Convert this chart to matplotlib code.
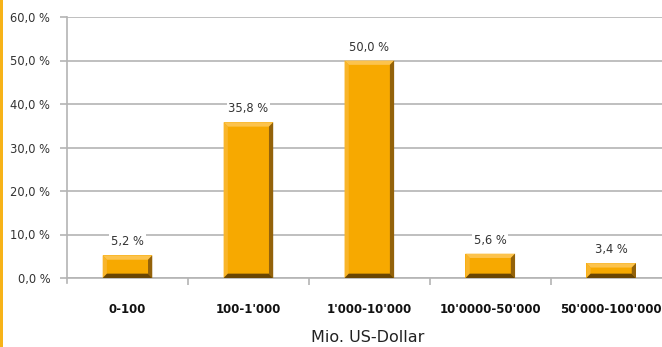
import matplotlib.pyplot as plt
from matplotlib.patches import Polygon, Rectangle

# revenue classes and share of companies
classes = ["0-100", "100-1'000", "1'000-10'000", "10'0000-50'000", "50'000-100'000"]
shares = [5.2, 35.8, 50.0, 5.6, 3.4]
yticks = [0, 10, 20, 30, 40, 50, 60]

FACE = "#F7A900"
LIGHT = "#FCC34D"
DARK = "#93620A"
DARKEST = "#6A4604"
GRID = "#B4B4B4"


def fmt(v):
    return "{:.1f} %".format(v).replace(".", ",")


def bevel_bar(ax, x, h, w=0.41, dx=0.035, dy=1.0):
    x0, x1 = x - w / 2, x + w / 2
    ax.add_patch(Rectangle((x0, 0), w, h, facecolor=FACE, edgecolor="none", zorder=3))
    # top and left highlight
    ax.add_patch(Polygon([(x0, h), (x1, h), (x1 - dx, h - dy), (x0 + dx, h - dy)],
                         facecolor=LIGHT, edgecolor="none", zorder=4))
    ax.add_patch(Polygon([(x0, h), (x0 + dx, h - dy), (x0 + dx, dy), (x0, 0)],
                         facecolor="#F9B52A", edgecolor="none", zorder=4))
    # right and bottom shade
    ax.add_patch(Polygon([(x1, h), (x1, 0), (x1 - dx, dy), (x1 - dx, h - dy)],
                         facecolor=DARK, edgecolor="none", zorder=4))
    ax.add_patch(Polygon([(x0, 0), (x1, 0), (x1 - dx, dy), (x0 + dx, dy)],
                         facecolor=DARKEST, edgecolor="none", zorder=4))


fig = plt.figure(figsize=(6.62, 3.47), dpi=100)
ax = fig.add_axes([67 / 662, 69 / 347, 1 - 67 / 662, 261 / 347])

for i, v in enumerate(shares):
    bevel_bar(ax, i, v)
    ax.annotate(fmt(v), (i, v), xytext=(0, 5), textcoords="offset points",
                ha="center", va="bottom", fontsize=8.3, color="#333333", zorder=5,
                bbox=dict(boxstyle="square,pad=0.15", facecolor="white", edgecolor="none"))

ax.set_xlim(-0.5, 4.42)
ax.set_ylim(0, 60)
ax.set_yticks(yticks)
ax.set_yticklabels([fmt(t) for t in yticks], fontsize=8.3, color="#333333")
ax.yaxis.grid(True, color=GRID, linewidth=1.2, zorder=0)
ax.set_axisbelow(True)
ax.tick_params(axis="y", length=5, width=1.2, color=GRID, pad=7)

ax.set_xticks([i + 0.5 for i in range(4)])
ax.set_xticklabels([])
ax.set_xticks(range(5), minor=True)
ax.set_xticklabels(classes, minor=True, fontsize=8.5, fontweight="bold", color="#111111")
ax.tick_params(axis="x", which="major", length=5, width=1.2, color=GRID)
ax.tick_params(axis="x", which="minor", length=0, pad=18)

for s in ["top", "right"]:
    ax.spines[s].set_visible(False)
ax.spines["left"].set_color(GRID)
ax.spines["left"].set_linewidth(1.2)
ax.spines["left"].set_bounds(-1.2, 60)
ax.spines["bottom"].set_color(GRID)
ax.spines["bottom"].set_linewidth(1.2)
ax.spines["left"].set_zorder(1)

fig.text(368 / 662, 1 - 338 / 347, "Mio. US-Dollar", ha="center", va="center",
         fontsize=11.5, color="#222222")

# orange border on the left edge
fig.add_artist(Rectangle((0, 0), 3 / 662, 1, transform=fig.transFigure,
                         facecolor="#F7B318", edgecolor="none"))

fig.savefig("out.png", dpi=100)
